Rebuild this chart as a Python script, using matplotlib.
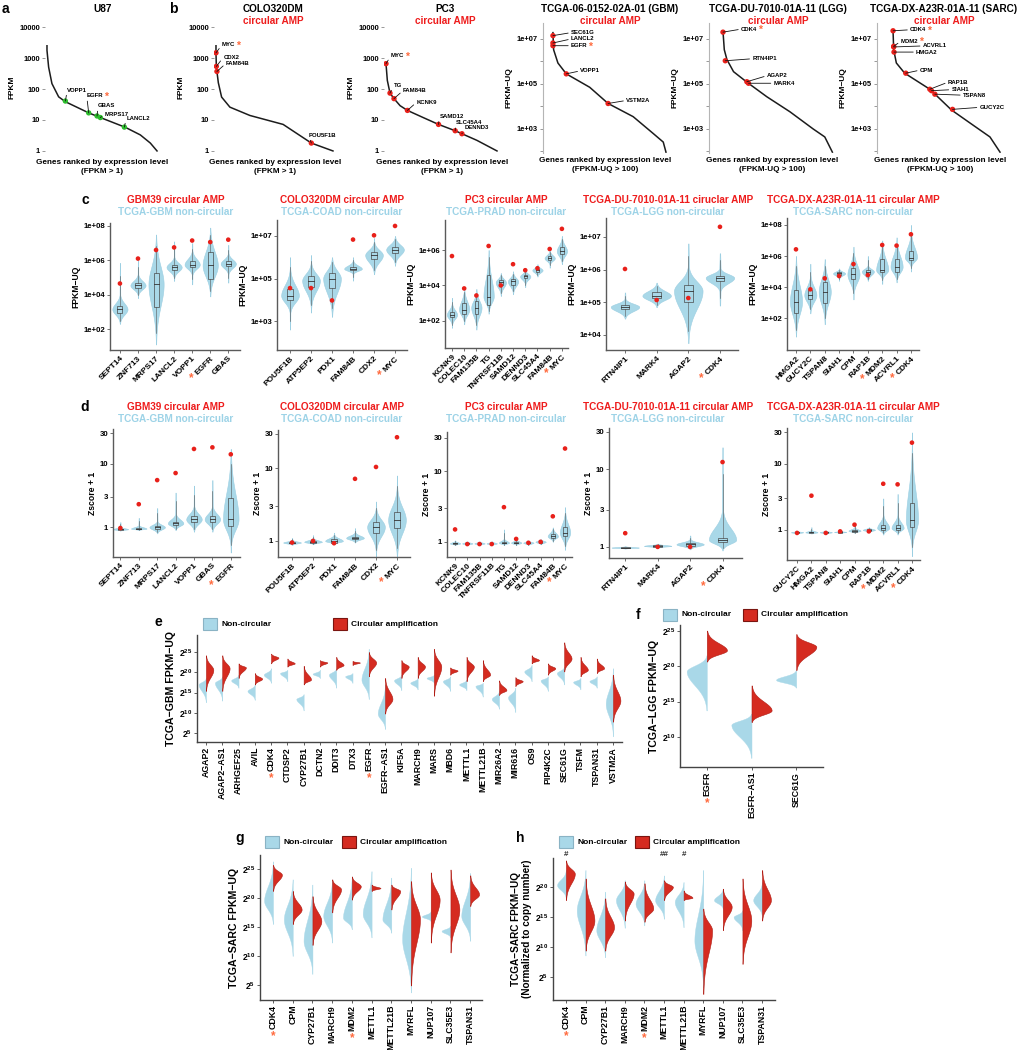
"""Expression of circular-amplified genes: ranked curves, violins and split violins."""

import numpy as np
import matplotlib
matplotlib.use('Agg')
import matplotlib.pyplot as plt
from matplotlib.patches import Rectangle
from matplotlib.text import Text
from matplotlib.ticker import NullLocator, FixedLocator, NullFormatter

plt.rcParams['font.family'] = ['Liberation Sans', 'DejaVu Sans']
plt.rcParams['font.weight'] = 'bold'
plt.rcParams['axes.labelweight'] = 'bold'
plt.rcParams['mathtext.fontset'] = 'custom'
plt.rcParams['mathtext.rm'] = 'Liberation Sans:bold'
plt.rcParams['mathtext.it'] = 'Liberation Sans:bold'
plt.rcParams['mathtext.bf'] = 'Liberation Sans:bold'

# ----------------------------------------------------------------------
# a / b : genes ranked by expression (x = rank fraction, y = FPKM)
# ----------------------------------------------------------------------
U87_CURVE_X = [0.0, 0.0, 0.015, 0.045, 0.106, 0.167, 0.379, 0.470, 0.712, 0.848, 0.939, 1.0]
U87_CURVE_Y = [2500, 1780, 510, 150, 56, 39, 17, 12.6, 5.8, 3.3, 1.8, 1.0]
U87_GENES = ['VOPP1', 'EGFR', 'GBAS', 'MRPS17', 'LANCL2']
U87_X = [0.167, 0.379, 0.455, 0.485, 0.703]
U87_Y = [41, 17, 13.5, 12, 5.9]

COLO_CURVE_X = [0.0, 0.0, 0.003, 0.008, 0.02, 0.048, 0.119, 0.29, 0.574, 0.815, 1.0]
COLO_CURVE_Y = [2500, 1480, 540, 370, 160, 55, 26, 14, 7.2, 1.8, 1.0]
COLO_GENES = ['MYC', 'CDX2', 'FAM84B', 'POU5F1B']
COLO_X = [0.0, 0.003, 0.008, 0.815]
COLO_Y = [1480, 540, 370, 1.8]

PC3_CURVE_X = [0.0, 0.012, 0.036, 0.072, 0.127, 0.193, 0.337, 0.473, 0.623, 0.684, 0.819, 1.0]
PC3_CURVE_Y = [660, 190, 74, 49, 29, 20.4, 11.9, 7.2, 4.5, 3.6, 2.2, 1.0]
PC3_GENES = ['MYC', 'TG', 'FAM84B', 'KCNK9', 'SAMD12', 'SLC45A4', 'DENND3']
PC3_X = [0.0, 0.036, 0.072, 0.193, 0.473, 0.623, 0.684]
PC3_Y = [660, 74, 49, 20.4, 7.2, 4.5, 3.6]

GBM_CURVE_X = [0.0, 0.006, 0.044, 0.118, 0.325, 0.488, 0.71, 0.888, 0.976, 1.0]
GBM_CURVE_Y = [1.9e7, 3.3e6, 8.5e5, 2.8e5, 7.1e4, 1.35e4, 3.5e3, 620, 260, 93]
GBM_GENES = ['SEC61G', 'LANCL2', 'EGFR', 'VOPP1', 'VSTM2A']
GBM_X = [0.0, 0.0, 0.0, 0.118, 0.488]
GBM_Y = [1.4e7, 6.6e6, 5.0e6, 2.8e5, 1.35e4]

LGG_CURVE_X = [0.0, 0.012, 0.036, 0.096, 0.217, 0.398, 0.608, 0.819, 0.925, 0.994]
LGG_CURVE_Y = [2.2e7, 3.3e6, 1.2e6, 3.5e5, 1.2e5, 2.7e4, 5.8e3, 1.0e3, 440, 93]
LGG_GENES = ['CDK4', 'RTN4IP1', 'AGAP2', 'MARK4']
LGG_X = [0.0, 0.021, 0.217, 0.232]
LGG_Y = [2.0e7, 1.07e6, 1.25e5, 1.07e5]

SARC_CURVE_X = [0.0, 0.006, 0.031, 0.109, 0.344, 0.547, 0.75, 0.906, 1.0]
SARC_CURVE_Y = [2.3e7, 3.3e6, 8.5e5, 3.0e5, 5.8e4, 6.9e3, 1.45e3, 440, 93]
SARC_GENES = ['CDK4', 'MDM2', 'ACVRL1', 'HMGA2', 'CPM', 'RAP1B', 'SIAH1', 'TSPAN8', 'GUCY2C']
SARC_X = [0.0, 0.006, 0.006, 0.009, 0.119, 0.344, 0.359, 0.391, 0.556]
SARC_Y = [2.3e7, 4.7e6, 4.4e6, 2.6e6, 3.0e5, 5.8e4, 5.0e4, 3.5e4, 7.4e3]

# ----------------------------------------------------------------------
# c : FPKM-UQ violins (log10 values)
# ----------------------------------------------------------------------
C1_GENES = ['SEPT14', 'ZNF713', 'MRPS17', 'LANCL2', 'VOPP1', 'EGFR', 'GBAS']
C1_LO = [2.3, 3.8, 1.1, 4.8, 4.6, 3.9, 4.7]
C1_Q1 = [2.95, 4.4, 3.3, 5.45, 5.6, 4.9, 5.65]
C1_MED = [3.15, 4.54, 4.6, 5.6, 5.75, 5.7, 5.8]
C1_Q3 = [3.35, 4.7, 5.27, 5.75, 5.95, 6.5, 5.95]
C1_HI = [5.85, 6.0, 7.5, 7.1, 7.0, 7.9, 6.9]
C1_RED = [4.65, 6.1, 6.6, 6.75, 7.15, 7.06, 7.2]

C2_GENES = ['POU5F1B', 'ATP5EP2', 'PDX1', 'FAM84B', 'CDX2', 'MYC']
C2_LO = [2.6, 3.4, 3.2, 4.9, 5.2, 5.6]
C2_Q1 = [4.0, 4.6, 4.57, 5.4, 5.9, 6.2]
C2_MED = [4.2, 4.9, 5.0, 5.46, 6.1, 6.36]
C2_Q3 = [4.5, 5.1, 5.26, 5.55, 6.25, 6.5]
C2_HI = [6.0, 6.1, 6.0, 6.0, 6.9, 7.0]
C2_RED = [4.55, 4.55, 3.97, 6.83, 7.03, 7.47]

C3_GENES = ['KCNK9', 'COLEC10', 'FAM135B', 'TG', 'TNFRSF11B', 'SAMD12', 'DENND3',
            'SLC45A4', 'FAM84B', 'MYC']
C3_LO = [1.6, 1.8, 1.5, 2.4, 3.4, 3.5, 3.9, 4.5, 5.0, 5.2]
C3_Q1 = [2.2, 2.4, 2.4, 2.9, 4.0, 4.05, 4.4, 4.78, 5.45, 5.75]
C3_MED = [2.34, 2.63, 2.74, 3.37, 4.17, 4.23, 4.51, 4.86, 5.54, 5.94]
C3_Q3 = [2.5, 3.0, 3.1, 4.6, 4.3, 4.35, 4.6, 4.95, 5.65, 6.15]
C3_HI = [3.3, 3.9, 3.8, 6.0, 4.7, 4.8, 4.9, 5.2, 6.0, 6.8]
C3_RED = [5.66, 3.83, 3.43, 6.23, 4.0, 5.2, 4.86, 4.97, 6.06, 7.2]

C4_GENES = ['RTN4IP1', 'MARK4', 'AGAP2', 'CDK4']
C4_LO = [4.5, 4.85, 3.75, 4.9]
C4_Q1 = [4.78, 5.12, 5.01, 5.65]
C4_MED = [4.86, 5.2, 5.35, 5.75]
C4_Q3 = [4.92, 5.3, 5.53, 5.82]
C4_HI = [5.3, 5.6, 6.8, 6.5]
C4_RED = [6.02, 5.07, 5.13, 7.31]

C5_GENES = ['HMGA2', 'GUCY2C', 'TSPAN8', 'SIAH1', 'CPM', 'RAP1B', 'MDM2', 'ACVRL1', 'CDK4']
C5_LO = [0.8, 2.3, 1.6, 4.4, 3.2, 4.4, 4.2, 4.3, 5.0]
C5_Q1 = [2.3, 3.2, 3.0, 4.8, 4.5, 4.85, 4.95, 5.0, 5.75]
C5_MED = [3.05, 3.48, 3.7, 4.88, 4.82, 5.0, 5.1, 5.3, 5.9]
C5_Q3 = [3.8, 3.8, 4.3, 4.95, 5.2, 5.1, 5.8, 5.8, 6.3]
C5_HI = [6.0, 5.5, 5.8, 5.2, 6.6, 6.0, 7.0, 7.2, 8.0]
C5_RED = [6.43, 3.85, 4.56, 4.71, 5.48, 4.77, 6.71, 6.67, 7.4]

# ----------------------------------------------------------------------
# d : Zscore + 1 violins
# ----------------------------------------------------------------------
D1_GENES = ['SEPT14', 'ZNF713', 'MRPS17', 'LANCL2', 'VOPP1', 'GBAS', 'EGFR']
D1_LO = [0.88, 0.9, 0.8, 0.9, 0.85, 0.85, 0.4]
D1_Q1 = [0.92, 0.93, 0.95, 1.08, 1.2, 1.2, 1.05]
D1_MED = [0.93, 0.95, 1.0, 1.15, 1.33, 1.33, 1.33]
D1_Q3 = [0.95, 0.97, 1.05, 1.22, 1.5, 1.5, 2.9]
D1_HI = [1.2, 1.4, 2.0, 3.5, 4.5, 5.5, 17]
D1_RED = [0.97, 2.3, 5.5, 7.1, 17, 18, 14]

D2_GENES = ['POU5F1B', 'ATP5EP2', 'PDX1', 'FAM84B', 'CDX2', 'MYC']
D2_LO = [0.88, 0.9, 0.9, 0.95, 0.6, 0.6]
D2_Q1 = [0.93, 0.95, 0.95, 1.05, 1.3, 1.5]
D2_MED = [0.95, 0.97, 1.0, 1.1, 1.56, 1.95]
D2_Q3 = [0.97, 1.0, 1.05, 1.15, 1.8, 2.5]
D2_HI = [1.1, 1.2, 1.3, 1.5, 3.5, 8.0]
D2_RED = [0.95, 1.0, 0.93, 7.2, 10.5, 27]

D3_GENES = ['KCNK9', 'COLEC10', 'FAM135B', 'TNFRSF11B', 'TG', 'SAMD12', 'DENND3',
            'SLC45A4', 'FAM84B', 'MYC']
D3_LO = [0.9, 0.9, 0.9, 0.9, 0.9, 0.9, 0.9, 0.92, 1.0, 0.77]
D3_Q1 = [0.93, 0.93, 0.93, 0.93, 0.95, 0.95, 0.95, 0.97, 1.12, 1.2]
D3_MED = [0.95, 0.95, 0.95, 0.95, 0.97, 0.97, 0.97, 1.0, 1.2, 1.35]
D3_Q3 = [0.97, 0.97, 0.97, 0.97, 1.0, 1.0, 1.0, 1.03, 1.3, 1.6]
D3_HI = [1.05, 1.02, 1.02, 1.02, 1.5, 1.1, 1.05, 1.1, 1.6, 3.1]
D3_RED = [1.5, 0.93, 0.93, 0.93, 3.1, 1.1, 0.97, 1.0, 2.3, 21]

D4_GENES = ['RTN4IP1', 'MARK4', 'AGAP2', 'CDK4']
D4_LO = [0.95, 0.98, 0.93, 0.9]
D4_Q1 = [0.97, 1.0, 1.03, 1.15]
D4_MED = [0.98, 1.03, 1.08, 1.23]
D4_Q3 = [0.99, 1.05, 1.12, 1.32]
D4_HI = [1.02, 1.1, 1.4, 19]
D4_RED = [1.5, 1.0, 1.0, 12.3]

D5_GENES = ['GUCY2C', 'HMGA2', 'TSPAN8', 'SIAH1', 'CPM', 'RAP1B', 'MDM2', 'ACVRL1', 'CDK4']
D5_LO = [0.88, 0.88, 0.88, 0.9, 0.9, 0.93, 0.85, 0.85, 0.4]
D5_Q1 = [0.9, 0.9, 0.9, 0.91, 0.94, 0.97, 1.0, 1.0, 1.1]
D5_MED = [0.92, 0.92, 0.92, 0.93, 0.97, 1.0, 1.07, 1.07, 1.4]
D5_Q3 = [0.94, 0.94, 0.94, 0.95, 1.0, 1.03, 1.2, 1.2, 2.6]
D5_HI = [0.97, 1.1, 0.98, 0.97, 1.3, 1.1, 3.0, 3.5, 30]
D5_RED = [0.9, 3.3, 0.9, 0.95, 1.2, 0.95, 5.0, 4.9, 21]

# ----------------------------------------------------------------------
# e-h : split violins, log2 FPKM-UQ (bottom / mode / top of each half)
# ----------------------------------------------------------------------
E_GENES = ['AGAP2', 'AGAP2−AS1', 'ARHGEF25', 'AVIL', 'CDK4', 'CTDSP2', 'CYP27B1', 'DCTN2',
           'DDIT3', 'DTX3', 'EGFR', 'EGFR−AS1', 'KIF5A', 'MARCH9', 'MARS', 'MBD6', 'METTL1',
           'METTL21B', 'MIR26A2', 'MIR616', 'OS9', 'PIP4K2C', 'SEC61G', 'TSFM', 'TSPAN31',
           'VSTM2A']
E_NC_LO = [12.6, 13.0, 16.2, 13.2, 17.4, 17.8, 10.6, 18.6, 16.2, 17.4, 13.4, 6.0, 15.6,
           15.8, 17.4, 15.4, 15.6, 14.0, 11.0, 10.2, 17.8, 15.4, 17.0, 15.8, 16.2, 4.2]
E_NC_MODE = [17.0, 17.4, 18.0, 15.4, 19.4, 19.8, 13.4, 19.6, 19.4, 19.0, 18.2, 9.8, 18.0,
             17.4, 18.6, 17.8, 17.0, 16.6, 13.4, 13.8, 20.2, 18.0, 19.8, 17.6, 17.8, 12.2]
E_NC_HI = [18.6, 19.0, 19.4, 17.0, 21.0, 20.6, 14.6, 20.6, 21.0, 19.8, 25.8, 17.0, 19.4,
           18.6, 19.4, 19.0, 18.2, 17.4, 15.4, 16.2, 21.8, 19.0, 21.4, 18.6, 19.0, 21.0]
E_C_LO = [15.4, 15.4, 18.6, 17.0, 22.2, 21.4, 17.0, 21.4, 20.6, 21.8, 19.0, 9.8, 18.6,
          18.6, 14.2, 19.4, 17.8, 17.8, 14.4, 16.6, 22.2, 19.4, 20.2, 19.0, 19.8, 7.8]
E_C_MODE = [20.6, 21.0, 21.2, 18.4, 23.6, 22.2, 18.2, 22.4, 21.8, 22.4, 22.4, 13.4, 21.4,
            21.4, 21.4, 20.4, 21.4, 19.4, 15.6, 17.8, 23.0, 21.0, 23.4, 20.6, 21.0, 13.0]
E_C_HI = [24.2, 24.2, 22.2, 19.8, 24.6, 23.4, 21.6, 23.0, 23.8, 22.8, 25.0, 18.6, 23.0,
          23.8, 25.8, 21.2, 23.8, 23.0, 18.0, 18.8, 24.2, 22.2, 27.4, 23.8, 23.4, 19.4]

F_GENES = ['EGFR', 'EGFR−AS1', 'SEC61G']
F_NC_LO = [13.75, 7.0, 17.0]
F_NC_MODE = [19.3, 11.7, 18.1]
F_NC_HI = [21.6, 13.3, 19.5]
F_C_LO = [20.7, 12.1, 19.5]
F_C_MODE = [22.3, 13.75, 22.8]
F_C_HI = [25.1, 17.3, 24.6]

G_GENES = ['CDK4', 'CPM', 'CYP27B1', 'MARCH9', 'MDM2', 'METTL1', 'METTL21B', 'MYRFL',
           'NUP107', 'SLC35E3', 'TSPAN31']
G_NC_LO = [15.5, 10.0, 6.9, 12.3, 14.6, 13.2, 14.0, 3.7, 16.0, 13.2, 12.6]
G_NC_MODE = [19.5, 16.3, 12.6, 16.9, 16.6, 17.2, 16.3, 12.9, 16.8, 14.3, 16.9]
G_NC_HI = [26.3, 23.2, 22.3, 23.2, 23.7, 24.6, 23.5, 25.2, 17.7, 15.2, 24.3]
G_C_LO = [21.2, 15.5, 11.9, 17.5, 19.7, 21.2, 18.0, 4.9, 12.3, 10.6, 18.6]
G_C_MODE = [24.0, 18.0, 16.0, 21.5, 22.0, 21.7, 21.2, 16.3, 19.7, 18.0, 20.6]
G_C_HI = [25.7, 21.2, 20.3, 23.2, 23.7, 22.3, 22.3, 22.9, 24.4, 24.9, 23.9]

H_GENES = G_GENES
H_NC_LO = [18.1, 8.6, 8.3, 13.2, 13.6, 14.7, 13.3, 3.3, 16.4, 12.8, 15.0]
H_NC_MODE = [20.3, 16.1, 12.8, 17.8, 17.2, 17.8, 17.5, 11.1, 17.8, 15.0, 17.8]
H_NC_HI = [22.8, 22.8, 19.2, 21.1, 21.1, 21.9, 20.8, 22.8, 19.7, 16.1, 20.8]
H_C_LO = [17.8, 9.4, 9.4, 14.4, 14.2, 17.8, 17.8, 2.2, 12.8, 7.2, 14.4]
H_C_MODE = [22.2, 14.4, 13.3, 18.9, 16.4, 20.0, 18.2, 12.8, 16.7, 14.4, 17.8]
H_C_HI = [24.4, 21.4, 18.1, 20.9, 20.6, 21.1, 19.4, 16.4, 19.7, 21.4, 22.8]
H_MARKS = ['#', '', '', '', '', '##', '#', '', '', '', '']

# ----------------------------------------------------------------------
# style
# ----------------------------------------------------------------------
W, H = 1021, 1050
BLUE = '#a9d8e8'
BLUE_EDGE = '#9ccfe2'
BLUE_TXT = '#9dd3e7'
RED_DOT = '#e8201a'
RED_TXT = '#ee1c1c'
RED_FILL = '#d52b20'
RED_EDGE = '#b01c14'
STAR = '#ff6a3d'
GREEN = '#2dbd2d'
SPINE = '#5a5a5a'
TITLE_FS = 7.2

fig = plt.figure(figsize=(W / 100, H / 100), dpi=100)

STAR_AFTER = []    # annotation texts that get a star on their right
STAR_BEFORE = []   # 45 degree tick labels that get a star at their start
STAR_BELOW = []    # 90 degree tick labels that get a star under them


def add_axes_px(x0, x1, y0, y1):
    """Axes placed by pixel box (left, right, top, bottom)."""
    return fig.add_axes([x0 / W, 1 - y1 / H, (x1 - x0) / W, (y1 - y0) / H])


def half_profile(lo, mode, hi, s_lo=None, s_hi=None, n=200, spread=2.8, tail=0.0):
    """Smooth density outline between lo and hi, peaking at mode."""
    y = np.linspace(lo, hi, n)
    if s_lo is None:
        s_lo = max(mode - lo, 0.03) / spread
    if s_hi is None:
        s_hi = max(hi - mode, 0.03) / spread
    s = np.where(y < mode, s_lo, s_hi)
    w = np.exp(-0.5 * ((y - mode) / s) ** 2)
    if tail:
        # thin whisker-like tail that tapers towards both ends
        edge = np.where(y < mode, (y - lo) / max(mode - lo, 1e-6), (hi - y) / max(hi - mode, 1e-6))
        w = np.maximum(w, tail * (0.3 + 0.7 * edge))
    return y, w


def ftext(x, y, s, **kw):
    fig.text(x / W, 1 - y / H, s, **kw)


def rank_panel(box, xlim, ylim, cx, cy, genes, gx, gy, offsets, dot, starred,
               ylabel, xlabel, tcga=False):
    ax = add_axes_px(*box)
    ax.set_yscale('log')
    ax.plot(cx, cy, color='#1c1c1c', lw=1.1, zorder=2)
    ax.scatter(gx, gy, s=15, color=dot, edgecolors='none', zorder=4)
    ax.set_xlim(*xlim)
    ax.set_ylim(*ylim)
    ax.set_xticks([])
    for side in ('top', 'right', 'bottom'):
        ax.spines[side].set_visible(False)
    if tcga:
        ax.spines['left'].set_color('#b5b5b5')
        ax.set_yticks([1e3, 1e5, 1e7])
        ax.set_yticklabels(['1e+03', '1e+05', '1e+07'])
        ax.yaxis.set_minor_locator(FixedLocator([1e2, 1e4, 1e6]))
        ax.yaxis.set_minor_formatter(NullFormatter())
    else:
        ax.spines['left'].set_visible(False)
        ax.set_yticks([1, 10, 100, 1000, 10000])
        ax.set_yticklabels(['1', '10', '100', '1000', '10000'])
        ax.yaxis.set_minor_locator(NullLocator())
    ax.tick_params(axis='y', which='both', labelsize=5.4, length=2, width=0.6,
                   pad=1.5, color='#888888')
    ax.set_ylabel(ylabel, fontsize=6, labelpad=3)
    ax.set_xlabel(xlabel, fontsize=5.9, labelpad=3, linespacing=1.3)
    for g, x, y, (dx, dy) in zip(genes, gx, gy, offsets):
        t = ax.annotate(g, xy=(x, y), xytext=(dx, dy), textcoords='offset pixels',
                        fontsize=4.3, ha='left', va='center', zorder=5,
                        arrowprops=dict(arrowstyle='-', color='#111111', lw=0.6,
                                        shrinkA=0, shrinkB=0, relpos=(0, 0.5)))
        if g in starred:
            STAR_AFTER.append(t)
    return ax


def violin_panel(box, xlim, ylim, yticks, ylabels, genes, lo, q1, med, q3, hi, red,
                 ylabel, starred, log_input, width=0.42):
    ax = add_axes_px(*box)
    ax.set_yscale('log')
    conv = (lambda v: v) if log_input else np.log10
    bw = 0.14
    for i in range(len(genes)):
        x = i + 1
        l, a, m, b, h, r = (conv(v) for v in (lo[i], q1[i], med[i], q3[i], hi[i], red[i]))
        # body width follows the box, tails follow the full range
        s_lo = min((m - l) / 2.8, max(1.6 * (m - a), (m - l) / 8, 0.004))
        s_hi = min((h - m) / 2.8, max(1.6 * (b - m), (h - m) / 8, 0.004))
        y, w = half_profile(l, m, h, s_lo=s_lo, s_hi=s_hi, tail=0.06)
        ax.fill_betweenx(10 ** y, x - width * w, x + width * w, facecolor=BLUE,
                         edgecolor=BLUE_EDGE, lw=0.4, zorder=1)
        ax.plot([x, x], [10 ** (a - 0.7 * (a - l)), 10 ** a], color='#555555', lw=0.4, zorder=2)
        ax.plot([x, x], [10 ** b, 10 ** (b + 0.7 * (h - b))], color='#555555', lw=0.4, zorder=2)
        ax.add_patch(Rectangle((x - bw, 10 ** a), 2 * bw, 10 ** b - 10 ** a, fill=False,
                               ec='#4a4a4a', lw=0.5, zorder=3))
        ax.plot([x - bw, x + bw], [10 ** m, 10 ** m], color='#333333', lw=0.6, zorder=3)
        ax.scatter([x], [10 ** r], s=11, color=RED_DOT, edgecolors='none', zorder=5)
    ax.set_xlim(*xlim)
    ax.set_ylim(*ylim)
    ax.set_yticks(yticks)
    ax.set_yticklabels(ylabels)
    ax.yaxis.set_minor_locator(NullLocator())
    ax.set_xticks(range(1, len(genes) + 1))
    ax.set_xticklabels(genes, rotation=45, ha='right', va='top', rotation_mode='anchor',
                       fontsize=6)
    for side in ('top', 'right'):
        ax.spines[side].set_visible(False)
    for side in ('left', 'bottom'):
        ax.spines[side].set_color(SPINE)
        ax.spines[side].set_linewidth(1.0)
    ax.tick_params(axis='both', length=2, width=0.6, color=SPINE, pad=1.5)
    ax.tick_params(axis='y', labelsize=5.6)
    ax.set_ylabel(ylabel, fontsize=6.2, labelpad=2)
    for lab in ax.get_xticklabels():
        if lab.get_text() in starred:
            STAR_BEFORE.append(lab)
    return ax


def split_panel(box, xlim, ylim, yticks, genes, nc_lo, nc_mode, nc_hi, c_lo, c_mode, c_hi,
                ylabel, starred, width=0.45, ylabel_size=7.6):
    ax = add_axes_px(*box)
    ax.set_yscale('log', base=2)
    for i in range(len(genes)):
        x = i + 1
        y, w = half_profile(nc_lo[i], nc_mode[i], nc_hi[i])
        ax.fill_betweenx(2.0 ** y, x - width * w, x, facecolor=BLUE, edgecolor=BLUE,
                         lw=0.3, zorder=2)
        y, w = half_profile(c_lo[i], c_mode[i], c_hi[i])
        ax.fill_betweenx(2.0 ** y, x, x + width * w, facecolor=RED_FILL, edgecolor=RED_EDGE,
                         lw=0.4, zorder=3)
    ax.set_xlim(*xlim)
    ax.set_ylim(2.0 ** ylim[0], 2.0 ** ylim[1])
    ax.set_yticks([2.0 ** k for k in yticks])
    ax.set_yticklabels([rf'$2^{{{k}}}$' for k in yticks])
    ax.yaxis.set_minor_locator(NullLocator())
    ax.set_xticks(range(1, len(genes) + 1))
    ax.set_xticklabels(genes, rotation=90, ha='center', va='top', fontsize=6.3)
    for side in ('top', 'right'):
        ax.spines[side].set_visible(False)
    for side in ('left', 'bottom'):
        ax.spines[side].set_color('#444444')
        ax.spines[side].set_linewidth(1.0)
    ax.tick_params(axis='both', length=2, width=0.6, color='#444444', pad=1.5)
    ax.tick_params(axis='y', labelsize=6.2)
    ax.set_ylabel(ylabel, fontsize=ylabel_size, labelpad=2, linespacing=1.15)
    for lab in ax.get_xticklabels():
        if lab.get_text() in starred:
            STAR_BELOW.append(lab)
    return ax


def legend_boxes(x_blue, x_red, y_top):
    for x, fc, ec, label in ((x_blue, BLUE, '#8ab3c4', 'Non-circular'),
                             (x_red, RED_FILL, '#7a1510', 'Circular amplification')):
        fig.add_artist(Rectangle((x / W, 1 - (y_top + 12) / H), 14 / W, 12 / H,
                                 transform=fig.transFigure, fc=fc, ec=ec, lw=0.8))
        ftext(x + 18, y_top + 6, label, fontsize=6, ha='left', va='center')


# ---------------- a / b ----------------
FPKM_LIM = (0.74, 17000)
UQ_LIM = (85, 5.1e7)
XL_CELL = 'Genes ranked by expression level\n(FPKM > 1)'
XL_TCGA = 'Genes ranked by expression level\n(FPKM-UQ > 100)'

rank_panel((45, 160, 20, 155), (-0.018, 1.027), FPKM_LIM, U87_CURVE_X, U87_CURVE_Y,
           U87_GENES, U87_X, U87_Y, [(2, 11), (-2, 17), (1, 10), (4, 3), (2, 9)],
           GREEN, ['EGFR'], 'FPKM', XL_CELL)
rank_panel((214, 336, 20, 155), (-0.017, 1.026), FPKM_LIM, COLO_CURVE_X, COLO_CURVE_Y,
           COLO_GENES, COLO_X, COLO_Y, [(6, 8), (7, 9), (9, 8), (-3, 8)],
           RED_DOT, ['MYC'], 'FPKM', XL_CELL)
rank_panel((384, 500, 20, 155), (-0.018, 1.027), FPKM_LIM, PC3_CURVE_X, PC3_CURVE_Y,
           PC3_GENES, PC3_X, PC3_Y, [(5, 8), (4, 8), (9, 8), (9, 8), (1, 8), (1, 8), (3, 6)],
           RED_DOT, ['MYC'], 'FPKM', XL_CELL)
rank_panel((543, 668, 23, 153), (-0.088, 1.018), UQ_LIM, GBM_CURVE_X, GBM_CURVE_Y,
           GBM_GENES, GBM_X, GBM_Y, [(18, 3), (18, 4), (18, 0), (14, 3), (18, 3)],
           RED_DOT, ['EGFR'], 'FPKM−UQ', XL_TCGA, tcga=True)
rank_panel((709, 836, 23, 153), (-0.127, 1.027), UQ_LIM, LGG_CURVE_X, LGG_CURVE_Y,
           LGG_GENES, LGG_X, LGG_Y, [(18, 3), (27, 2), (20, 6), (25, 0)],
           RED_DOT, ['CDK4'], 'FPKM−UQ', XL_TCGA, tcga=True)
rank_panel((877, 1003, 23, 153), (-0.15, 1.028), UQ_LIM, SARC_CURVE_X, SARC_CURVE_Y,
           SARC_GENES, SARC_X, SARC_Y,
           [(17, 1), (7, 5), (29, 1), (22, 0), (14, 3), (18, 7), (20, 1), (28, -1), (27, 2)],
           RED_DOT, ['CDK4', 'MDM2'], 'FPKM−UQ', XL_TCGA, tcga=True)

ftext(103, 9, 'U87', fontsize=TITLE_FS, ha='center', va='center')
for cx, name in ((273, 'COLO320DM'), (445, 'PC3'), (610, 'TCGA-06-0152-02A-01 (GBM)'),
                 (778, 'TCGA-DU-7010-01A-11 (LGG)'), (944, 'TCGA-DX-A23R-01A-11 (SARC)')):
    ftext(cx, 9, name, fontsize=TITLE_FS, ha='center', va='center')
    ftext(cx, 20.5, 'circular AMP', fontsize=TITLE_FS, ha='center', va='center', color=RED_TXT)

# ---------------- c ----------------
UQ_TICKS = {2: '1e+02', 3: '1e+03', 4: '1e+04', 5: '1e+05', 6: '1e+06', 7: '1e+07', 8: '1e+08'}


def uq_ticks(exps):
    return [10.0 ** k for k in exps], [UQ_TICKS[k] for k in exps]


violin_panel((110, 240, 223, 350), (0.45, 7.65), (10 ** 0.78, 10 ** 8.17), *uq_ticks([2, 4, 6, 8]),
             C1_GENES, C1_LO, C1_Q1, C1_MED, C1_Q3, C1_HI, C1_RED, 'FPKM−UQ', ['EGFR'], True)
violin_panel((277, 407, 220, 350), (0.38, 6.57), (10 ** 1.64, 10 ** 7.75), *uq_ticks([3, 5, 7]),
             C2_GENES, C2_LO, C2_Q1, C2_MED, C2_Q3, C2_HI, C2_RED, 'FPKM−UQ', ['MYC'], True)
violin_panel((445, 568, 220, 348), (0.43, 10.5), (10 ** 0.46, 10 ** 7.7), *uq_ticks([2, 4, 6]),
             C3_GENES, C3_LO, C3_Q1, C3_MED, C3_Q3, C3_HI, C3_RED, 'FPKM−UQ', ['MYC'], True)
violin_panel((606, 738, 218, 350), (0.4, 4.57), (10 ** 3.54, 10 ** 7.58), *uq_ticks([4, 5, 6, 7]),
             C4_GENES, C4_LO, C4_Q1, C4_MED, C4_Q3, C4_HI, C4_RED, 'FPKM−UQ', ['CDK4'], True,
             width=0.45)
violin_panel((787, 919, 218, 350), (0.375, 9.56), (10 ** -0.06, 10 ** 8.45), *uq_ticks([2, 4, 6, 8]),
             C5_GENES, C5_LO, C5_Q1, C5_MED, C5_Q3, C5_HI, C5_RED, 'FPKM−UQ', ['MDM2', 'CDK4'], True)

# ---------------- d ----------------
Z_TICKS = ([1, 3, 10, 30], ['1', '3', '10', '30'])
violin_panel((113, 240, 429, 557), (0.6, 7.5), (0.34, 35), *Z_TICKS,
             D1_GENES, D1_LO, D1_Q1, D1_MED, D1_Q3, D1_HI, D1_RED, 'Zscore + 1', ['EGFR'], False)
violin_panel((278, 410, 430, 557), (0.33, 6.62), (0.6, 34), *Z_TICKS,
             D2_GENES, D2_LO, D2_Q1, D2_MED, D2_Q3, D2_HI, D2_RED, 'Zscore + 1', ['MYC'], False)
violin_panel((447, 572, 432, 557), (0.34, 10.57), (0.61, 36), *Z_TICKS,
             D3_GENES, D3_LO, D3_Q1, D3_MED, D3_Q3, D3_HI, D3_RED, 'Zscore + 1', ['MYC'], False)
violin_panel((609, 742, 428, 558), (0.5, 4.6), (0.72, 33.7), *Z_TICKS,
             D4_GENES, D4_LO, D4_Q1, D4_MED, D4_Q3, D4_HI, D4_RED, 'Zscore + 1', ['CDK4'], False)
violin_panel((787, 920, 428, 560), (0.3, 9.56), (0.35, 35), *Z_TICKS,
             D5_GENES, D5_LO, D5_Q1, D5_MED, D5_Q3, D5_HI, D5_RED, 'Zscore + 1',
             ['MDM2', 'CDK4'], False)

ROW_TITLES = [
    ('GBM39 circular AMP', 'TCGA-GBM non-circular', 176),
    ('COLO320DM circular AMP', 'TCGA-COAD non-circular', 342),
    ('PC3 circular AMP', 'TCGA-PRAD non-circular', 506),
    ('TCGA-DU-7010-01A-11 {} AMP', 'TCGA-LGG non-circular', 668),
    ('TCGA-DX-A23R-01A-11 circular AMP', 'TCGA-SARC non-circular', 853),
]
for row_y, typo in ((200, 'ciruclar'), (407, 'circular')):
    for red_t, blue_t, cx in ROW_TITLES:
        ftext(cx, row_y, red_t.format(typo), fontsize=TITLE_FS, ha='center', va='center',
              color=RED_TXT)
        ftext(cx, row_y + 12, blue_t, fontsize=TITLE_FS, ha='center', va='center',
              color=BLUE_TXT)

# ---------------- e - h ----------------
split_panel((197, 622, 635, 742), (0.45, 26.55), (2.8, 29.2), [5, 10, 15, 20, 25],
            E_GENES, E_NC_LO, E_NC_MODE, E_NC_HI, E_C_LO, E_C_MODE, E_C_HI,
            'TCGA−GBM FPKM−UQ', ['CDK4', 'EGFR'])
split_panel((680, 823, 625, 767), (0.4, 3.6), (5.7, 25.9), [10, 15, 20, 25],
            F_GENES, F_NC_LO, F_NC_MODE, F_NC_HI, F_C_LO, F_C_MODE, F_C_HI,
            'TCGA−LGG FPKM−UQ', ['EGFR'])
split_panel((260, 482, 855, 1000), (0.34, 11.6), (2.4, 27.4), [5, 10, 15, 20, 25],
            G_GENES, G_NC_LO, G_NC_MODE, G_NC_HI, G_C_LO, G_C_MODE, G_C_HI,
            'TCGA−SARC FPKM−UQ', ['CDK4', 'MDM2'])
ax_h = split_panel((553, 775, 858, 1000), (0.34, 11.66), (1.2, 24.8), [5, 10, 15, 20],
                   H_GENES, H_NC_LO, H_NC_MODE, H_NC_HI, H_C_LO, H_C_MODE, H_C_HI,
                   'TCGA−SARC FPKM−UQ\n(Normalized to copy number)', ['CDK4', 'MDM2'],
                   ylabel_size=7.2)
for i, mark in enumerate(H_MARKS):
    if mark:
        ax_h.text(i + 1, 1.0, mark, transform=ax_h.get_xaxis_transform(), ha='center',
                  va='bottom', fontsize=5.8, color='#333333')

legend_boxes(203, 333, 618)
legend_boxes(663, 743, 609)
legend_boxes(265, 342, 836)
legend_boxes(559, 635, 836)

for letter, x, y in (('a', 5, 9), ('b', 173, 9), ('c', 85, 200), ('d', 85, 407),
                     ('e', 158, 622), ('f', 638, 615), ('g', 240, 838), ('h', 520, 838)):
    ftext(x, y, letter, fontsize=10, ha='center', va='center')

# ---------------- stars next to the labels ----------------
fig.canvas.draw()
renderer = fig.canvas.get_renderer()
for t in STAR_AFTER:
    # text only, without the leader line
    bb = Text.get_window_extent(t, renderer)
    fig.text((bb.x1 + 0.5) / W, (bb.y0 + bb.height * 0.3) / H, '*', color=STAR,
             fontsize=7.5, ha='left', va='center')
for lab in STAR_BEFORE:
    bb = lab.get_window_extent(renderer)
    fig.text((bb.x0 - 0.5) / W, (bb.y0 - 2) / H, '*', color=STAR,
             fontsize=8.5, ha='right', va='center')
for lab in STAR_BELOW:
    bb = lab.get_window_extent(renderer)
    fig.text((bb.x0 + bb.x1) / 2 / W, (bb.y0 - 1) / H, '*', color=STAR,
             fontsize=8.5, ha='center', va='top')

fig.savefig('out.png', dpi=100)
